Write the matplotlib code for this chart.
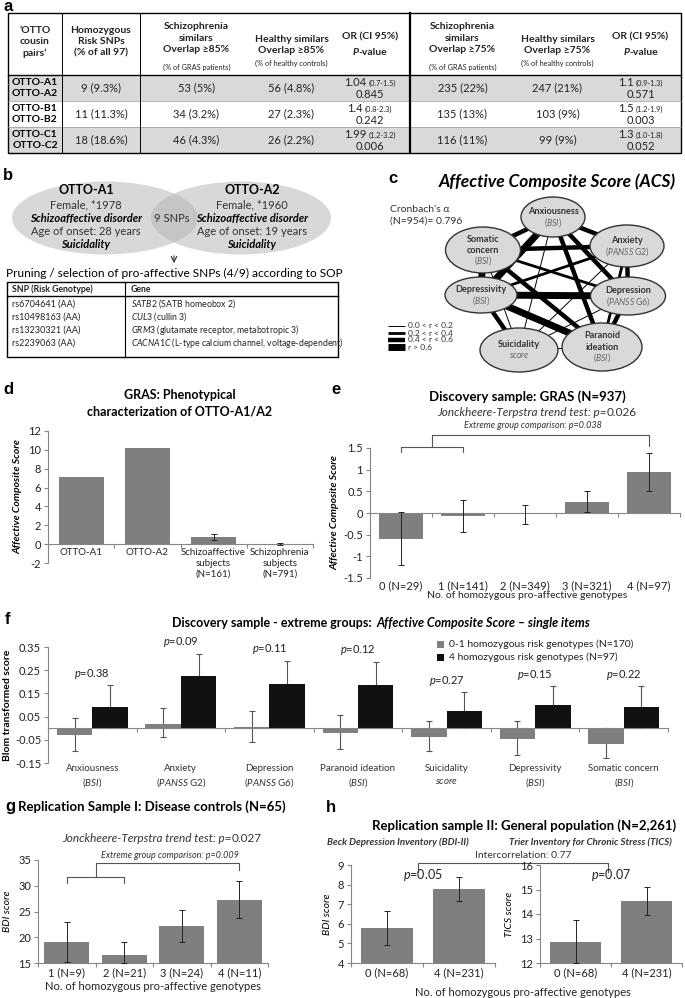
import numpy as np
import matplotlib
matplotlib.use('Agg')
import matplotlib.pyplot as plt
from matplotlib.patches import Ellipse, Rectangle
from matplotlib.ticker import FuncFormatter

# ---------------- data ----------------
# a: OTTO cousin pairs table
pair_rows = [('OTTO-A1', 'OTTO-A2'), ('OTTO-B1', 'OTTO-B2'), ('OTTO-C1', 'OTTO-C2')]
homozygous = ['9 (9.3%)', '11 (11.3%)', '18 (18.6%)']
schizo85 = ['53 (5%)', '34 (3.2%)', '46 (4.3%)']
healthy85 = ['56 (4.8%)', '27 (2.3%)', '26 (2.2%)']
or85 = ['1.04', '1.4', '1.99']
ci85 = ['(0.7-1.5)', '(0.8-2.3)', '(1.2-3.2)']
p85 = ['0.845', '0.242', '0.006']
schizo75 = ['235 (22%)', '135 (13%)', '116 (11%)']
healthy75 = ['247 (21%)', '103 (9%)', '99 (9%)']
or75 = ['1.1', '1.5', '1.3']
ci75 = ['(0.9-1.3)', '(1.2-1.9)', '(1.0-1.8)']
p75 = ['0.571', '0.003', '0.052']

# b: venn + SNP table
venn_left = ['OTTO-A1', 'Female, *1978', 'Schizoaffective disorder', 'Age of onset: 28 years', 'Suicidality']
venn_right = ['OTTO-A2', 'Female, *1960', 'Schizoaffective disorder', 'Age of onset: 19 years', 'Suicidality']
snp_ids = ['rs6704641 (AA)', 'rs10498163 (AA)', 'rs13230321 (AA)', 'rs2239063 (AA)']
snp_genes = ['SATB2', 'CUL3', 'GRM3', 'CACNA1C']
snp_desc = ['(SATB homeobox 2)', '(cullin 3)', '(glutamate receptor, metabotropic 3)',
            '(L-type calcium channel, voltage-dependent)']

# c: ACS network (edge class 1..4 = r bins)
acs_items = ['Anxiousness', 'Anxiety', 'Depression', 'Paranoid\nideation',
             'Suicidality', 'Depressivity', 'Somatic\nconcern']
acs_sub = [r'($\mathit{BSI}$)', r'($\mathit{PANSS}$ G2)', r'($\mathit{PANSS}$ G6)', r'($\mathit{BSI}$)',
           r'$\mathit{score}$', r'($\mathit{BSI}$)', r'($\mathit{BSI}$)']
acs_edges = [(0, 1, 3), (0, 2, 3), (0, 3, 3), (0, 4, 1), (0, 5, 4), (0, 6, 3),
             (1, 2, 3), (1, 3, 2), (1, 4, 1), (1, 5, 2), (1, 6, 3),
             (2, 3, 3), (2, 4, 1), (2, 5, 4), (2, 6, 2),
             (3, 4, 1), (3, 5, 4), (3, 6, 3),
             (4, 5, 3), (4, 6, 1), (5, 6, 4)]
r_bins = ['0.0 < r < 0.2', '0.2 < r < 0.4', '0.4 < r < 0.6', 'r > 0.6']

# d
d_cats = ['OTTO-A1', 'OTTO-A2', 'Schizoaffective\nsubjects\n(N=161)', 'Schizophrenia\nsubjects\n(N=791)']
d_vals = [7.15, 10.15, 0.75, 0.02]
d_err = [0, 0, 0.35, 0.1]

# e
e_cats = ['0 (N=29)', '1 (N=141)', '2 (N=349)', '3 (N=321)', '4 (N=97)']
e_vals = [-0.6, -0.06, -0.03, 0.26, 0.95]
e_lo = [-1.21, -0.43, -0.25, 0.02, 0.5]
e_hi = [0.02, 0.3, 0.19, 0.51, 1.38]

# f
f_cats = ['Anxiousness', 'Anxiety', 'Depression', 'Paranoid ideation', 'Suicidality', 'Depressivity', 'Somatic concern']
f_sub = [r'($\mathit{BSI}$)', r'($\mathit{PANSS}$ G2)', r'($\mathit{PANSS}$ G6)', r'($\mathit{BSI}$)',
         r'$\mathit{score}$', r'($\mathit{BSI}$)', r'($\mathit{BSI}$)']
f_gray = [-0.03, 0.02, 0.005, -0.02, -0.04, -0.045, -0.07]
f_gray_lo = [-0.10, -0.04, -0.06, -0.09, -0.10, -0.115, -0.13]
f_gray_hi = [0.045, 0.088, 0.075, 0.055, 0.03, 0.03, 0.0]
f_black = [0.09, 0.225, 0.19, 0.185, 0.075, 0.098, 0.09]
f_black_lo = [0.0, 0.13, 0.09, 0.075, 0.0, 0.01, 0.0]
f_black_hi = [0.185, 0.32, 0.29, 0.285, 0.155, 0.18, 0.18]
f_p = ['0.38', '0.09', '0.11', '0.12', '0.27', '0.15', '0.22']
f_legend = ['0-1 homozygous risk genotypes (N=170)', '4 homozygous risk genotypes (N=97)']

# g
g_cats = ['1 (N=9)', '2 (N=21)', '3 (N=24)', '4 (N=11)']
g_vals = [19.0, 16.5, 22.1, 27.3]
g_lo = [15.2, 15.0, 19.0, 23.8]
g_hi = [23.0, 19.1, 25.3, 30.9]

# h
h_cats = ['0 (N=68)', '4 (N=231)']
bdi_vals = [5.78, 7.77]
bdi_lo = [4.92, 7.18]
bdi_hi = [6.65, 8.38]
tics_vals = [12.87, 14.52]
tics_lo = [12.0, 13.97]
tics_hi = [13.77, 15.1]

# ---------------- setup ----------------
W, H = 685, 998
plt.rcParams['font.family'] = ['Lato', 'DejaVu Sans']
plt.rcParams['mathtext.fontset'] = 'custom'
plt.rcParams['mathtext.rm'] = 'Lato'
plt.rcParams['mathtext.it'] = 'Lato:italic'
plt.rcParams['mathtext.bf'] = 'Lato:bold'
plt.rcParams['axes.unicode_minus'] = False

BAR = '#7f7f7f'
AXC = '#868686'
TXT = '#222222'

fig = plt.figure(figsize=(W / 100., H / 100.), dpi=100)
ov = fig.add_axes([0, 0, 1, 1])
ov.set_xlim(0, W)
ov.set_ylim(H, 0)
ov.axis('off')
R = fig.canvas.get_renderer()


def ax_at(l, t, r, b):
    return fig.add_axes([l / W, 1 - b / H, (r - l) / W, (b - t) / H])


def run(x, y, parts, gap=0.0, va='center', **kw):
    # several text pieces in a row, centred at x
    ts = [ov.text(x, y, s, ha='left', va=va, **dict(kw, **k)) for s, k in parts]
    ws = [t.get_window_extent(R).width for t in ts]
    cx = x - (sum(ws) + gap * (len(ws) - 1)) / 2.
    for t, w in zip(ts, ws):
        t.set_x(cx)
        cx += w + gap


def label(x, y, s):
    ov.text(x, y, s, fontsize=12, fontweight='bold', family='Liberation Sans', ha='left', va='center')


def style(ax, n, zero=None, labels=None):
    for s in ('top', 'right'):
        ax.spines[s].set_visible(False)
    for s in ('left', 'bottom'):
        ax.spines[s].set_color(AXC)
        ax.spines[s].set_linewidth(0.8)
    ax.tick_params(axis='y', direction='out', length=3, width=0.8, color=AXC, labelsize=8,
                   pad=2, labelcolor=TXT)
    ax.set_xlim(-0.5, n - 0.5)
    ax.set_xticks(np.arange(n))
    ax.set_xticks(np.arange(-0.5, n), minor=True)
    ax.tick_params(axis='x', which='minor', direction='out', length=3, width=0.8, color=AXC)
    ax.tick_params(axis='x', which='major', length=0, labelsize=8, labelcolor=TXT, pad=3)
    if labels is not None:
        ax.set_xticklabels(labels)
    if zero is not None:
        ax.spines['bottom'].set_position(('data', zero))
    ax.yaxis.set_major_formatter(FuncFormatter(lambda v, p: '%g' % round(v, 3)))
    ax.patch.set_alpha(0)


# ---------------- a: table ----------------
label(4, 6, 'a')
cols = [8, 62, 140, 253, 330, 410, 515, 600, 681]
rows = [13, 75, 101, 127, 153]
mid = [(cols[i] + cols[i + 1]) / 2. for i in range(8)]
for k in (0, 2):
    ov.add_patch(Rectangle((cols[0], rows[k + 1]), cols[-1] - cols[0], rows[k + 2] - rows[k + 1],
                           fc='#d9d9d9', ec='none'))
for k in (2, 3):
    ov.plot([cols[0], cols[-1]], [rows[k]] * 2, color='#999999', lw=0.5)
ov.add_patch(Rectangle((cols[0], rows[0]), cols[-1] - cols[0], rows[-1] - rows[0], fc='none', ec='k', lw=1))
ov.plot([cols[0], cols[-1]], [rows[1]] * 2, 'k-', lw=1)
for xx in cols[1:3]:
    ov.plot([xx, xx], [rows[0], rows[-1]], 'k-', lw=0.7)
ov.plot([cols[5]] * 2, [rows[0], rows[-1]], 'k-', lw=1.6)

hb = dict(fontsize=7.5, fontweight='bold', ha='center', va='center', linespacing=1.3, color=TXT)
ov.text(mid[0], 42, '\u2018OTTO\ncousin\npairs\u2019', **hb)
ov.text(mid[1], 42, 'Homozygous\nRisk SNPs\n(% of all 97)', **hb)
for c, th in ((2, '85'), (5, '75')):
    ov.text(mid[c], 38, 'Schizophrenia\nsimilars\nOverlap \u2265%s%%' % th, **hb)
    ov.text(mid[c], 67, '(% of GRAS patients)', fontsize=5.3, ha='center', va='center', color=TXT)
for c, th in ((3, '85'), (6, '75')):
    ov.text(mid[c], 45, 'Healthy similars\nOverlap \u2265%s%%' % th, **hb)
    ov.text(mid[c], 63, '(% of healthy controls)', fontsize=5.3, ha='center', va='center', color=TXT)
for c in (4, 7):
    ov.text(mid[c], 37, 'OR (CI 95%)', **hb)
    run(mid[c], 52, [('P', dict(fontstyle='italic')), ('-value', {})], fontsize=7.5,
        fontweight='bold', color=TXT)

for k in range(3):
    yc = (rows[k + 1] + rows[k + 2]) / 2.
    ov.text(mid[0], yc, pair_rows[k][0] + '\n' + pair_rows[k][1], fontsize=7.5, fontweight='bold',
            ha='center', va='center', linespacing=1.3)
    for c, vals in ((1, homozygous), (2, schizo85), (3, healthy85), (5, schizo75), (6, healthy75)):
        ov.text(mid[c], yc, vals[k], fontsize=8, ha='center', va='center', color=TXT)
    for c, o, ci, p in ((4, or85, ci85, p85), (7, or75, ci75, p75)):
        run(mid[c], yc - 2, [(o[k], dict(fontsize=8)), (ci[k], dict(fontsize=5.3))], gap=2,
            va='baseline', color=TXT)
        ov.text(mid[c], yc + 6.5, p[k], fontsize=8, ha='center', va='center', color=TXT)

# ---------------- b: venn + SNP table ----------------
label(3, 175, 'b')
ov.add_patch(Ellipse((105, 218), 186, 73, fc='#b3b3b3', alpha=0.5, ec='none'))
ov.add_patch(Ellipse((241, 218), 180, 73, fc='#b3b3b3', alpha=0.5, ec='none'))
vy = [190, 205, 218, 231, 244]
vstyle = [dict(fontsize=9, fontweight='bold', color='k'), dict(fontsize=8, color='#333333'),
          dict(fontsize=8, fontweight='bold', fontstyle='italic', color='k'),
          dict(fontsize=8, color='#333333'), dict(fontsize=8, fontweight='bold', fontstyle='italic', color='k')]
for xc, lines in ((86, venn_left), (252, venn_right)):
    for yy, s, st in zip(vy, lines, vstyle):
        ov.text(xc, yy, s, ha='center', va='center', **st)
ov.text(172, 218, '9 SNPs', fontsize=8, ha='center', va='center', color='#333333')
ov.annotate('', xy=(174, 266), xytext=(174, 253),
            arrowprops=dict(arrowstyle='->', lw=0.8, color='#333333'))
ov.text(174, 273, 'Pruning / selection of pro-affective SNPs (4/9) according to SOP',
        fontsize=8.6, ha='center', va='center', color='k')
ov.add_patch(Rectangle((7, 282), 331, 75, fc='none', ec='k', lw=1))
ov.plot([7, 338], [296, 296], 'k-', lw=1)
ov.plot([125, 125], [282, 357], 'k-', lw=0.8)
ov.text(12, 289, 'SNP (Risk Genotype)', fontsize=6.3, fontweight='bold', va='center', color=TXT)
ov.text(131, 289, 'Gene', fontsize=6.3, fontweight='bold', va='center', color=TXT)
for k in range(4):
    yy = 304 + 13 * k
    ov.text(12, yy, snp_ids[k], fontsize=6.5, va='center', color=TXT)
    ov.text(131, yy, r'$\mathit{%s}$ %s' % (snp_genes[k], snp_desc[k]), fontsize=6.3, va='center', color=TXT)

# ---------------- c: ACS network ----------------
label(388, 178, 'c')
ov.text(557, 182, 'Affective Composite Score (ACS)', fontsize=12.5, fontweight='bold',
        fontstyle='italic', ha='center', va='center')
ov.text(390, 209, 'Cronbach\u2019s \u03b1', fontsize=7.5, va='center', color='#333333')
ov.text(390, 221, '(N=954)= 0.796', fontsize=7.5, va='center', color='#333333')
node_xy = [(553, 217), (627, 246), (628, 296), (602, 347), (519, 350), (481, 295), (483, 250)]
node_wh = [(64, 40), (74, 42), (75, 38), (80, 48), (78, 44), (72, 36), (75, 46)]
lw_cls = {1: 0.7, 2: 2.0, 3: 3.2, 4: 5.0}
for i, j, c in acs_edges:
    ov.plot([node_xy[i][0], node_xy[j][0]], [node_xy[i][1], node_xy[j][1]], color='k',
            lw=lw_cls[c], solid_capstyle='butt', zorder=2)
for k, (xy, wh) in enumerate(zip(node_xy, node_wh)):
    ov.add_patch(Ellipse(xy, wh[0], wh[1], fc='#d9d9d9', ec='#333333', lw=1, zorder=3))
    names = acs_items[k].split('\n')
    n = len(names) + 1
    for i, s in enumerate(names + [acs_sub[k]]):
        yy = xy[1] + (i - (n - 1) / 2.) * 11
        if i < len(names):
            ov.text(xy[0], yy, s, fontsize=6.6, fontweight='bold', ha='center', va='center',
                    color='#333333', zorder=4)
        else:
            ov.text(xy[0], yy, s, fontsize=6.2, ha='center', va='center', color='#666666', zorder=4)
for k, s in enumerate(r_bins):
    yy = 326 + 7 * k
    ov.plot([388, 405], [yy, yy], color='k', lw=lw_cls[k + 1], solid_capstyle='butt')
    ov.text(408, yy, s, fontsize=6, va='center', color='#333333')

# ---------------- d ----------------
label(3, 390, 'd')
ov.text(180, 395, 'GRAS: Phenotypical', fontsize=9, fontweight='bold', ha='center', va='center')
ov.text(180, 412, 'characterization of OTTO-A1/A2', fontsize=9, fontweight='bold', ha='center', va='center')
ax = ax_at(48, 431, 313, 563)
xd = np.arange(len(d_cats))
ax.bar(xd, d_vals, 0.68, color=BAR, zorder=2)
idx = [i for i in range(len(d_err)) if d_err[i] > 0]
ax.errorbar(xd[idx], np.array(d_vals)[idx], yerr=np.array(d_err)[idx], fmt='none', ecolor='#222222',
            elinewidth=0.7, capsize=2, capthick=0.7, zorder=3)
ax.set_ylim(-2, 12)
ax.set_yticks(np.arange(-2, 13, 2))
style(ax, len(d_cats), zero=0, labels=d_cats)
ax.tick_params(axis='x', which='major', labelsize=7)
ax.set_ylabel('Affective Composite Score', fontsize=7.5, fontstyle='italic', fontweight='bold', labelpad=4)

# ---------------- e ----------------
label(331, 390, 'e')
ov.text(527, 397, 'Discovery sample: GRAS (N=937)', fontsize=9.5, fontweight='bold', ha='center', va='center')
run(537, 412, [('Jonckheere-Terpstra trend test: p=', dict(fontstyle='italic')), ('0.026', {})],
    fontsize=8.5, color='#333333')
ov.text(533, 425, 'Extreme group comparison: p=0.038', fontsize=6.5, fontstyle='italic',
        ha='center', va='center', color='#333333')
ax = ax_at(370, 448, 680, 578)
xe = np.arange(len(e_cats))
e_vals_a = np.array(e_vals)
ax.bar(xe, e_vals_a, 0.7, color=BAR, zorder=2)
ax.errorbar(xe, e_vals_a, yerr=[e_vals_a - np.array(e_lo), np.array(e_hi) - e_vals_a], fmt='none',
            ecolor='#222222', elinewidth=0.7, capsize=2, capthick=0.7, zorder=3)
ax.set_ylim(-1.5, 1.5)
ax.set_yticks(np.arange(-1.5, 1.6, 0.5))
style(ax, len(e_cats), zero=0, labels=[''] * len(e_cats))
for i, s in enumerate(e_cats):
    ax.text(i, -0.02, s, transform=ax.get_xaxis_transform(), ha='center', va='top', fontsize=8, color=TXT)
ax.set_ylabel('Affective Composite Score', fontsize=7.5, fontstyle='italic', fontweight='bold', labelpad=3)
ov.text(527, 595, 'No. of homozygous pro-affective genotypes', fontsize=7.5, ha='center', va='center', color=TXT)
bk = dict(color='#555555', lw=0.8, clip_on=False)
ax.plot([0, 0, 1, 1], [1.4, 1.52, 1.52, 1.4], **bk)
ax.plot([0.5, 0.5, 4, 4], [1.52, 1.8, 1.8, 1.55], **bk)

# ---------------- f ----------------
label(5, 620, 'f')
run(381, 623, [('Discovery sample - extreme groups:', {}), ('Affective Composite Score \u2013 single items',
                                                              dict(fontstyle='italic'))],
    gap=5, fontsize=9, fontweight='bold')
ax = ax_at(48, 647, 668, 763)
xf = np.arange(len(f_cats))
fg, fb = np.array(f_gray), np.array(f_black)
ax.bar(xf - 0.2, fg, 0.4, color=BAR, zorder=2)
ax.bar(xf + 0.2, fb, 0.4, color='#111111', zorder=2)
ax.errorbar(xf - 0.2, fg, yerr=[fg - np.array(f_gray_lo), np.array(f_gray_hi) - fg], fmt='none',
            ecolor='#555555', elinewidth=0.8, capsize=2, capthick=0.8, zorder=1)
ax.errorbar(xf + 0.2, fb, yerr=[fb - np.array(f_black_lo), np.array(f_black_hi) - fb], fmt='none',
            ecolor='#555555', elinewidth=0.8, capsize=2, capthick=0.8, zorder=1)
ax.set_ylim(-0.15, 0.35)
ax.set_yticks(np.arange(-0.15, 0.36, 0.1))
style(ax, len(f_cats), zero=0, labels=[''] * len(f_cats))
for i in range(len(f_cats)):
    ax.text(i, -0.01, f_cats[i] + '\n' + f_sub[i], transform=ax.get_xaxis_transform(), ha='center',
            va='top', fontsize=7, color='#333333', linespacing=1.3)
    top = max(f_gray_hi[i], f_black_hi[i])
    ax.text(i, top + 0.05, r'$\mathit{p}$=' + f_p[i], ha='center', va='center', fontsize=8, color=TXT)
ax.set_ylabel('Blom transformed score', fontsize=7.5, fontweight='bold', labelpad=2)
for k, (s, col) in enumerate(zip(f_legend, [BAR, '#111111'])):
    yy = 644 + 13 * k
    ov.add_patch(Rectangle((437, yy - 3.5), 7, 7, fc=col, ec='none'))
    ov.text(449, yy, s, fontsize=7.5, va='center', color=TXT)

# ---------------- g ----------------
label(5, 807, 'g')
ov.text(152, 807, 'Replication Sample I: Disease controls (N=65)', fontsize=9.5, fontweight='bold',
        ha='center', va='center')
run(162, 839, [('Jonckheere-Terpstra trend test: p=', dict(fontstyle='italic')), ('0.027', {})],
    fontsize=8.5, color='#333333')
ov.text(170, 855, 'Extreme group comparison: p=0.009', fontsize=6.5, fontstyle='italic',
        ha='center', va='center', color='#333333')
ax = ax_at(38, 860, 268, 963)
xg = np.arange(len(g_cats))
gv = np.array(g_vals)
ax.bar(xg, gv, 0.78, color=BAR, zorder=2)
ax.errorbar(xg, gv, yerr=[gv - np.array(g_lo), np.array(g_hi) - gv], fmt='none', ecolor='#222222',
            elinewidth=0.7, capsize=2, capthick=0.7, zorder=3)
ax.set_ylim(15, 35)
ax.set_yticks(np.arange(15, 36, 5))
style(ax, len(g_cats), labels=g_cats)
ax.set_ylabel('BDI score', fontsize=7.5, fontstyle='italic', labelpad=4)
ax.set_xlabel('No. of homozygous pro-affective genotypes', fontsize=8, color=TXT, labelpad=2)
ax.plot([0, 0, 1, 1], [30.5, 31.7, 31.7, 30.5], **bk)
ax.plot([0.5, 0.5, 3, 3], [31.7, 34.4, 34.4, 33.1], **bk)

# ---------------- h ----------------
label(326, 808, 'h')
ov.text(524, 826, 'Replication sample II: General population (N=2,261)', fontsize=9.5, fontweight='bold',
        ha='center', va='center')
ov.text(398, 842, 'Beck Depression Inventory (BDI-II)', fontsize=7, fontweight='bold', fontstyle='italic',
        ha='center', va='center', color='#333333')
ov.text(590, 842, 'Trier Inventory for Chronic Stress (TICS)', fontsize=7, fontweight='bold',
        fontstyle='italic', ha='center', va='center', color='#333333')
ov.text(523, 856, 'Intercorrelation: 0.77', fontsize=7.5, ha='center', va='center', color='#333333')
ov.plot([418, 418, 608, 608], [872, 863, 863, 872], color='#555555', lw=0.8)
for (l, r), vals, lo, hi, ylim, yl, p in (((351, 495), bdi_vals, bdi_lo, bdi_hi, (4, 9), 'BDI score', '0.05'),
                                          ((540, 682), tics_vals, tics_lo, tics_hi, (12, 16), 'TICS score', '0.07')):
    ax = ax_at(l, 865, r, 963)
    xh = np.arange(len(h_cats))
    hv = np.array(vals)
    ax.bar(xh, hv, 0.72, color=BAR, zorder=2)
    ax.errorbar(xh, hv, yerr=[hv - np.array(lo), np.array(hi) - hv], fmt='none', ecolor='#222222',
                elinewidth=0.7, capsize=2, capthick=0.7, zorder=3)
    ax.set_ylim(*ylim)
    ax.set_yticks(np.arange(ylim[0], ylim[1] + 1, 1))
    style(ax, len(h_cats), labels=h_cats)
    ax.set_ylabel(yl, fontsize=7.5, fontstyle='italic', labelpad=4)
    ax.text(0.5, ylim[0] + (ylim[1] - ylim[0]) * 0.9, r'$\mathit{p}$=' + p, ha='center', va='center',
            fontsize=9, color=TXT)
ov.text(523, 992, 'No. of homozygous pro-affective genotypes', fontsize=8, ha='center', va='center', color=TXT)

fig.savefig('out.png', dpi=100)
